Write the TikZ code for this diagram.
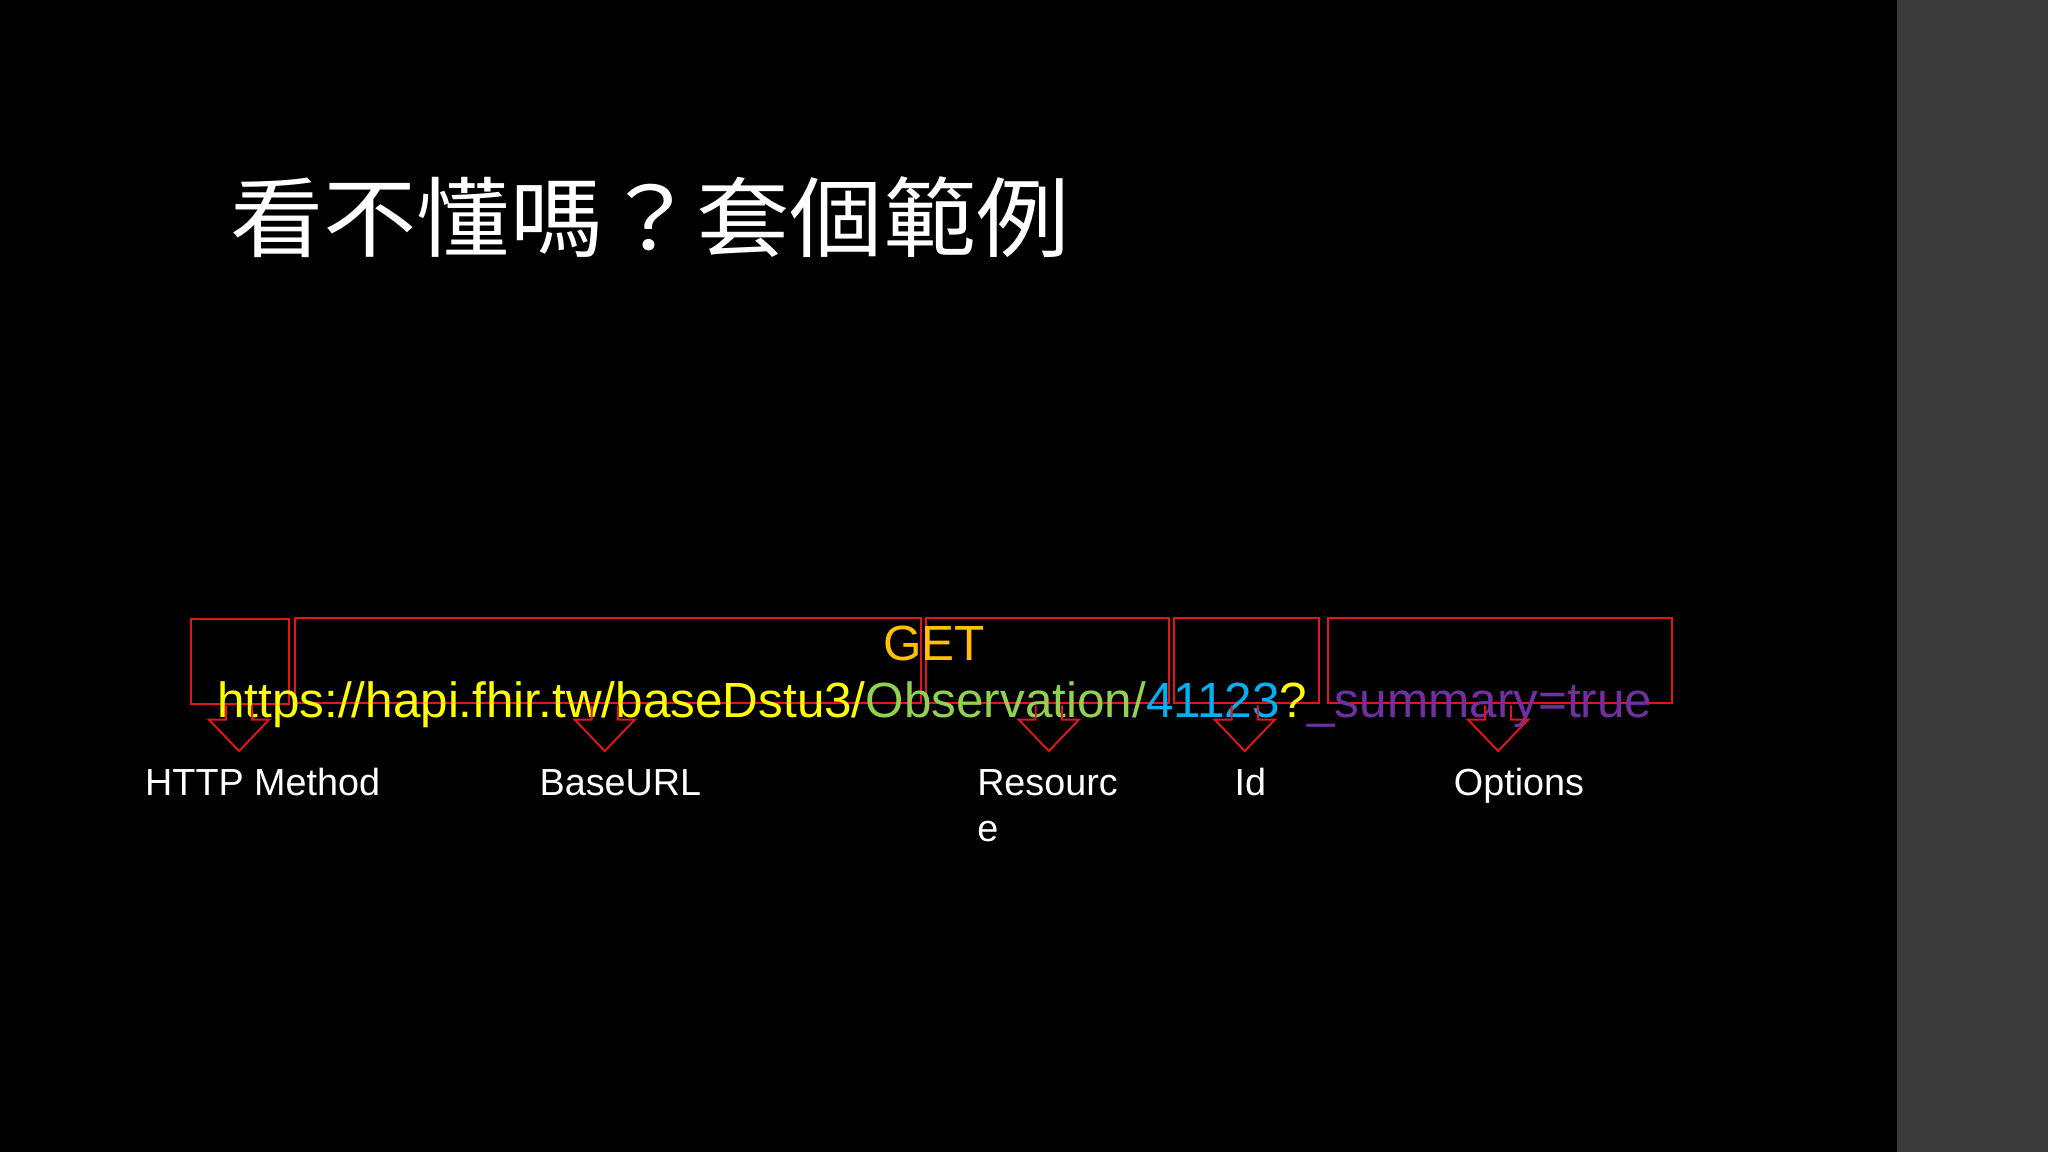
\documentclass[tikz,border=0pt]{standalone}
\usepackage{fontspec}
\setmainfont{Liberation Sans}
\newfontfamily\cjk{Noto Sans CJK TC}
\definecolor{rd}{HTML}{E0161B}
\definecolor{yl}{HTML}{FFFF00}
\definecolor{gn}{HTML}{92D050}
\definecolor{cy}{HTML}{00B0F0}
\definecolor{pu}{HTML}{7030A0}
\definecolor{og}{HTML}{FFC000}
\definecolor{side}{HTML}{3A3A3A}
\begin{document}
\begin{tikzpicture}[x=1bp,y=-1bp,
  box/.style={draw=rd,line width=1.5bp},
  lbl/.style={anchor=base west,inner sep=0,text=white,font=\fontsize{29}{35}\selectfont},
  arr/.style={draw=rd,line width=1.5bp}]
\fill[black] (0,0) rectangle (1452,882);
\fill[side] (1452,0) rectangle (1568,882);
\useasboundingbox (0,0) rectangle (1568,882);
\node[anchor=base west,inner sep=0,text=white,font=\cjk\fontsize{67}{72}\selectfont,xscale=1.07] (title) at (176,192) {看不懂嗎？套個範例};
\draw[box] (146,474) rectangle (221,539);
\draw[box] (226,473) rectangle (705,538);
\draw[box] (709,473) rectangle (895,538);
\draw[box] (899,473) rectangle (1010,538);
\draw[box] (1017,473) rectangle (1280,538);
\node[anchor=base,inner sep=0,text=og,font=\fontsize{38}{44}\selectfont] (get) at (715,506) {GET};
\node[anchor=base west,inner sep=0,font=\fontsize{38}{44}\selectfont] (url) at (166,549) {\color{yl}https://hapi.fhir.tw/baseDstu3/\color{gn}Observation/\color{cy}41123\color{yl}?\color{pu}\_summary=true};
\foreach \c in {183,463,803,953,1147}{
  \draw[arr] (\c-10,540) -- (\c-10,551) -- (\c-23,551) -- (\c,575) -- (\c+23,551) -- (\c+10,551) -- (\c+10,540);
}
\node[lbl] (l1) at (111,609) {HTTP Method};
\node[lbl] (l2) at (413,609) {BaseURL};
\node[lbl] (l3) at (748,609) {Resourc};
\node[lbl] (l3b) at (748,644) {e};
\node[lbl] (l4) at (945,609) {Id};
\node[lbl] (l5) at (1113,609) {Options};
\end{tikzpicture}
\end{document}
